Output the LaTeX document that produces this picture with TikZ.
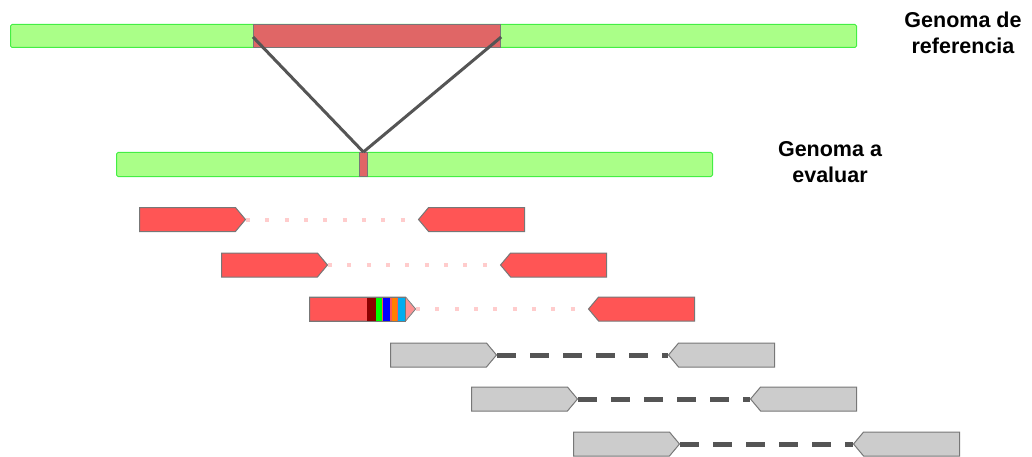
\documentclass[tikz,border=0pt]{standalone}
\usepackage{fontspec}
\setmainfont{Liberation Sans}
\usetikzlibrary{shapes.symbols}
\definecolor{gfill}{HTML}{AAFF88}
\definecolor{gline}{HTML}{44EE44}
\definecolor{delred}{HTML}{E06666}
\definecolor{readred}{HTML}{FF5555}
\definecolor{readgray}{HTML}{CCCCCC}
\definecolor{edge}{HTML}{777777}
\definecolor{dotpink}{HTML}{FFCCCC}
\definecolor{dashgray}{HTML}{555555}
\tikzset{
  genome/.style={draw=gline, fill=gfill, line width=1pt, rounded corners=1.5pt},
  delseg/.style={draw=edge, fill=delred, line width=1.2pt},
  readbase/.style={shape=signal, signal pointer angle=100, minimum width=106pt,
    minimum height=24pt, inner sep=0pt, draw=edge, line width=1pt},
  fwd/.style={readbase, signal to=east, signal from=nowhere, anchor=west},
  rev/.style={readbase, signal to=west, signal from=nowhere, anchor=east},
  redread/.style={fill=readred},
  grayread/.style={fill=readgray},
  pairdot/.style={dotpink, line width=4pt, dash pattern=on 4pt off 15.3pt},
  pairdash/.style={dashgray, line width=5pt, dash pattern=on 19pt off 14pt},
  maplink/.style={draw=dashgray, line width=3pt},
  label/.style={font=\bfseries\fontsize{21.5}{25.5}\selectfont, align=center, inner sep=0pt}
}
\begin{document}
\begin{tikzpicture}[x=1pt,y=-1pt]
\useasboundingbox (0,0) rectangle (1032,457);
% reference genome
\node[genome, minimum width=846pt, minimum height=23pt, anchor=north west, inner sep=0pt] (ref) at (10,24) {};
\node[delseg, minimum width=247pt, minimum height=23pt, anchor=north west, inner sep=0pt] (del) at (253,24) {};
% query genome
\node[genome, minimum width=596pt, minimum height=24pt, anchor=north west, inner sep=0pt] (qry) at (116,152) {};
\node[delseg, line width=0.8pt, minimum width=8pt, minimum height=24pt, anchor=north west, inner sep=0pt] (bp) at (359,152) {};
% links
\draw[maplink] ([yshift=-13pt]del.north west) -- (bp.north);
\draw[maplink] ([yshift=-13pt]del.north east) -- (bp.north);
% labels
\node[label] (lref) at (963,33) {Genoma de\\referencia};
\node[label] (lqry) at (830,162) {Genoma a\\evaluar};
% row 1
\node[fwd, redread] (a1) at (139,219.5) {};
\node[rev, redread] (b1) at (525,219.5) {};
\draw[pairdot] (a1.east) -- (b1.west);
% row 2
\node[fwd, redread] (a2) at (221,265) {};
\node[rev, redread] (b2) at (607,265) {};
\draw[pairdot] (a2.east) -- (b2.west);
% row 3
\node[fwd, redread] (a3) at (309,309) {};
\node[rev, redread] (b3) at (695,309) {};
\fill[white, opacity=0.35] (405.3,297) -- (415,309) -- (405.3,321) -- cycle;
\fill[red!55!black] (367,297.5) rectangle (375.5,320.5);
\fill[green] (375.5,297.5) rectangle (381.7,320.5);
\fill[blue] (382.7,297.5) rectangle (390,320.5);
\fill[orange] (391.7,297.5) rectangle (397.3,320.5);
\fill[cyan] (398.3,297.5) rectangle (405.3,320.5);
\draw[edge, line width=1pt] (309,297) rectangle (405.3,321);
\draw[pairdot] (a3.east) -- (b3.west);
% row 4
\node[fwd, grayread] (a4) at (390,355) {};
\node[rev, grayread] (b4) at (775,355) {};
\draw[pairdash] (a4.east) -- (b4.west);
% row 5
\node[fwd, grayread] (a5) at (471,399) {};
\node[rev, grayread] (b5) at (857,399) {};
\draw[pairdash] (a5.east) -- (b5.west);
% row 6
\node[fwd, grayread] (a6) at (573,444) {};
\node[rev, grayread] (b6) at (960,444) {};
\draw[pairdash] (a6.east) -- (b6.west);
\end{tikzpicture}
\end{document}
